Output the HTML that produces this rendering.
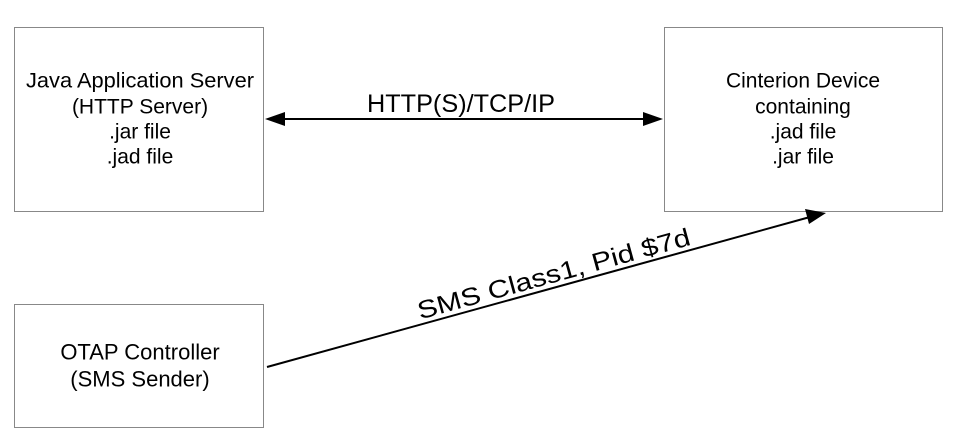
<!DOCTYPE html>
<html><head><style>
body{margin:0;background:#fff;}
</style></head><body>
<svg width="974" height="437" xmlns="http://www.w3.org/2000/svg" font-family="Liberation Sans, sans-serif" font-size="21" fill="#000">
<rect x="14.5" y="27.5" width="249" height="184" fill="none" stroke="#888" stroke-width="1"/>
<rect x="664.5" y="27.5" width="278" height="184" fill="none" stroke="#888" stroke-width="1"/>
<rect x="14.5" y="304.5" width="249" height="123" fill="none" stroke="#888" stroke-width="1"/>
<g text-anchor="middle" dominant-baseline="central">
<text x="140" y="81" textLength="228" lengthAdjust="spacingAndGlyphs">Java Application Server</text>
<text x="140" y="107">(HTTP Server)</text>
<text x="140" y="132">.jar file</text>
<text x="140" y="157">.jad file</text>
<text x="803" y="81">Cinterion Device</text>
<text x="803" y="107">containing</text>
<text x="803" y="132">.jad file</text>
<text x="803" y="157">.jar file</text>
<text x="140" y="352" font-size="22">OTAP Controller</text>
<text x="140" y="379" font-size="22">(SMS Sender)</text>
<text x="461" y="104" font-size="25" textLength="188" lengthAdjust="spacingAndGlyphs">HTTP(S)/TCP/IP</text>
</g>
<line x1="280" y1="119" x2="648" y2="119" stroke="#000" stroke-width="2"/>
<polygon points="265,119 285,112 285,126"/>
<polygon points="663,119 643,112 643,126"/>
<line x1="267" y1="367" x2="810" y2="217" stroke="#000" stroke-width="2"/>
<polygon points="826,213 805,209 809,224"/>
<text x="556" y="282" font-size="25" text-anchor="middle" textLength="282" lengthAdjust="spacingAndGlyphs" transform="rotate(-15.4 556 282)">SMS Class1, Pid $7d</text>
</svg>
</body></html>
